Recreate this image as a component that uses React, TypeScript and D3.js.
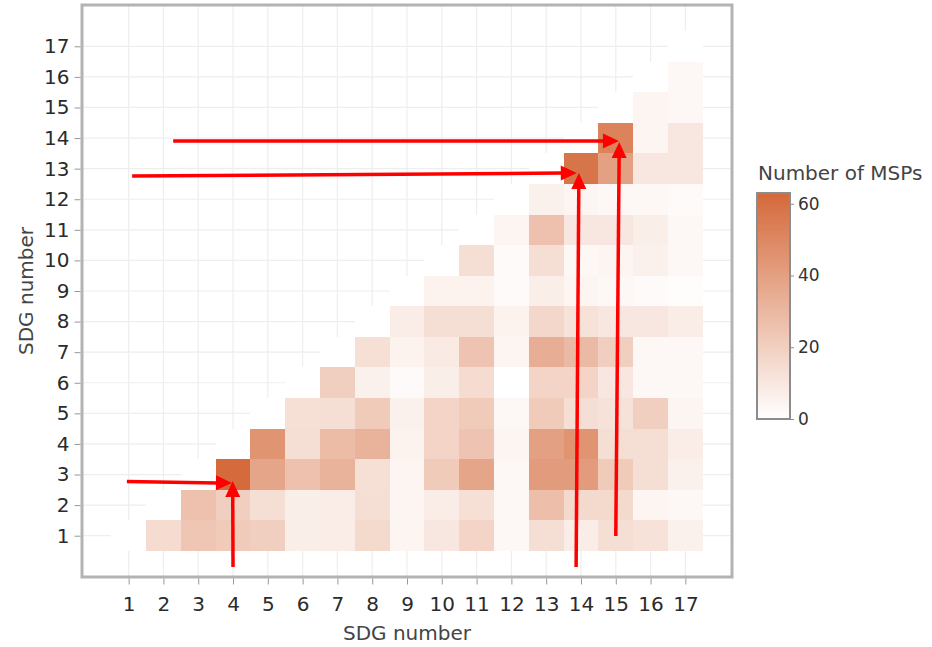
import * as React from 'react'
import * as d3 from 'd3'

// SDG numbers on both axes
const sdgs = [1, 2, 3, 4, 5, 6, 7, 8, 9, 10, 11, 12, 13, 14, 15, 16, 17]

// number of MSPs per pair: counts[x - 1][y - 1] for y = 1..x (diagonal is 0)
const counts: number[][] = [
    [0],
    [15, 0],
    [24, 26, 0],
    [22, 20, 62, 0],
    [20, 14, 38, 45, 0],
    [7, 7, 26, 14, 13, 0],
    [8, 8, 32, 28, 14, 20, 0],
    [16, 14, 13, 32, 22, 6, 13, 0],
    [4, 4, 4, 5, 6, 2, 5, 8, 0],
    [10, 8, 22, 18, 18, 7, 9, 14, 5, 0],
    [18, 13, 38, 25, 22, 15, 25, 14, 5, 14, 0],
    [3, 3, 3, 4, 3, 0, 4, 5, 2, 2, 4, 0],
    [14, 27, 42, 40, 22, 18, 34, 17, 7, 14, 26, 6, 0],
    [8, 16, 42, 45, 14, 18, 29, 12, 4, 3, 10, 4, 58, 0],
    [14, 16, 22, 14, 12, 10, 20, 10, 3, 4, 10, 3, 40, 52, 0],
    [12, 4, 14, 14, 20, 3, 3, 10, 2, 6, 7, 3, 10, 4, 4, 0],
    [6, 3, 6, 8, 4, 3, 3, 8, 1, 3, 3, 2, 10, 10, 3, 3, 0],
]

const colorTicks = [0, 20, 40, 60]
const colorMax = 63

// red annotation arrows, in SDG units: start -> tip
const arrows = [
    { x0: 0.95, y0: 2.77, x1: 3.97, y1: 2.72 },
    { x0: 4.0, y0: -0.02, x1: 3.99, y1: 2.79 },
    { x0: 1.1, y0: 12.76, x1: 13.88, y1: 12.86 },
    { x0: 13.86, y0: -0.02, x1: 13.94, y1: 12.86 },
    { x0: 2.28, y0: 13.9, x1: 15.09, y1: 13.9 },
    { x0: 15.0, y0: 0.99, x1: 15.1, y1: 13.87 },
]

interface Cell { x: number, y: number, value: number }

const FONT = "'DejaVu Sans', Verdana, sans-serif"

export default function App() {
    const node = React.useRef<SVGSVGElement | null>(null)

    React.useEffect(() => {
        document.body.style.margin = '0'
        if (!node.current)
            return
        const width = 932
        const height = 647
        const panel = { left: 82, top: 5, right: 732, bottom: 577 }

        const svg = d3.select(node.current)
        svg.selectAll('*').remove()
        svg.attr('width', width).attr('height', height)
            .style('font-family', FONT)
            .style('display', 'block')

        const x = d3.scaleLinear().domain([-0.34, 18.34]).range([panel.left, panel.right])
        const y = d3.scaleLinear().domain([-0.35, 18.35]).range([panel.bottom, panel.top])
        const color = d3.scaleLinear<string>().domain([0, colorMax]).range(['#ffffff', '#d4693a']).clamp(true)

        const cells: Cell[] = []
        counts.forEach((col, i) => col.forEach((v, j) => cells.push({ x: sdgs[i], y: sdgs[j], value: v })))

        svg.append('rect')
            .attr('x', panel.left).attr('y', panel.top)
            .attr('width', panel.right - panel.left).attr('height', panel.bottom - panel.top)
            .attr('fill', '#fff')

        // grid
        const grid = svg.append('g').attr('stroke', '#eeeeee').attr('stroke-width', 1.2)
        grid.selectAll('line.v').data(sdgs).enter().append('line')
            .attr('x1', d => x(d)).attr('x2', d => x(d))
            .attr('y1', panel.top).attr('y2', panel.bottom)
        grid.selectAll('line.h').data(sdgs).enter().append('line')
            .attr('y1', d => y(d)).attr('y2', d => y(d))
            .attr('x1', panel.left).attr('x2', panel.right)

        // heatmap cells
        svg.append('g').selectAll('rect').data(cells).enter().append('rect')
            .attr('x', d => x(d.x - 0.5))
            .attr('y', d => y(d.y + 0.5))
            .attr('width', d => x(d.x + 0.5) - x(d.x - 0.5))
            .attr('height', d => y(d.y - 0.5) - y(d.y + 0.5))
            .attr('fill', d => color(d.value))
            .attr('shape-rendering', 'crispEdges')

        // panel border
        svg.append('rect')
            .attr('x', panel.left).attr('y', panel.top)
            .attr('width', panel.right - panel.left).attr('height', panel.bottom - panel.top)
            .attr('fill', 'none').attr('stroke', '#b3b3b3').attr('stroke-width', 3)

        // x axis
        const xAxis = svg.append('g')
            .attr('transform', `translate(0,${panel.bottom + 1.5})`)
            .call(d3.axisBottom(x).tickValues(sdgs).tickSize(6).tickPadding(12).tickFormat(d3.format('d')))
        xAxis.select('.domain').remove()
        xAxis.selectAll('line').attr('stroke', '#999')
        xAxis.selectAll('text').attr('fill', '#2b2b2b').style('font-size', '20px').style('font-family', FONT)

        // y axis
        const yAxis = svg.append('g')
            .attr('transform', `translate(${panel.left - 1.5},0)`)
            .call(d3.axisLeft(y).tickValues(sdgs).tickSize(6).tickPadding(5).tickFormat(d3.format('d')))
        yAxis.select('.domain').remove()
        yAxis.selectAll('line').attr('stroke', '#999')
        yAxis.selectAll('text').attr('fill', '#2b2b2b').style('font-size', '20px').style('font-family', FONT)

        // axis titles
        svg.append('text')
            .attr('x', (panel.left + panel.right) / 2).attr('y', 640)
            .attr('text-anchor', 'middle').attr('fill', '#444')
            .style('font-size', '20px')
            .text('SDG number')
        svg.append('text')
            .attr('transform', `translate(33,${(panel.top + panel.bottom) / 2}) rotate(-90)`)
            .attr('text-anchor', 'middle').attr('fill', '#444')
            .style('font-size', '20px')
            .text('SDG number')

        // arrows
        const ag = svg.append('g').attr('fill', '#ff0000').attr('stroke', '#ff0000')
        for (const a of arrows) {
            const sx = x(a.x0), sy = y(a.y0), tx = x(a.x1), ty = y(a.y1)
            const len = Math.hypot(tx - sx, ty - sy)
            const ux = (tx - sx) / len, uy = (ty - sy) / len
            const head = 16, half = 7.5
            const bx = tx - ux * head, by = ty - uy * head
            ag.append('line')
                .attr('x1', sx).attr('y1', sy).attr('x2', bx + ux * 2).attr('y2', by + uy * 2)
                .attr('stroke-width', 3.5)
            ag.append('path')
                .attr('stroke', 'none')
                .attr('d', `M${tx},${ty}L${bx - uy * half},${by + ux * half}L${bx + uy * half},${by - ux * half}Z`)
        }

        // colour bar
        const bar = { left: 757, right: 790, top: 193, bottom: 419 }
        const cy = d3.scaleLinear().domain([0, colorMax]).range([bar.bottom, bar.top])
        const defs = svg.append('defs')
        const grad = defs.append('linearGradient').attr('id', 'msp-grad')
            .attr('x1', 0).attr('x2', 0).attr('y1', 1).attr('y2', 0)
        grad.append('stop').attr('offset', '0%').attr('stop-color', color(0))
        grad.append('stop').attr('offset', '100%').attr('stop-color', color(colorMax))
        svg.append('rect')
            .attr('x', bar.left).attr('y', bar.top)
            .attr('width', bar.right - bar.left).attr('height', bar.bottom - bar.top)
            .attr('fill', 'url(#msp-grad)')
            .attr('stroke', '#8c8c8c').attr('stroke-width', 2)
        const cAxis = svg.append('g')
            .attr('transform', `translate(${bar.right + 1},0)`)
            .call(d3.axisRight(cy).tickValues(colorTicks).tickSize(3).tickPadding(4))
        cAxis.select('.domain').remove()
        cAxis.selectAll('line').attr('stroke', '#8c8c8c')
        cAxis.selectAll('text').attr('fill', '#333').style('font-size', '17px').style('font-family', FONT)
        svg.append('text')
            .attr('x', 758).attr('y', 180)
            .attr('fill', '#444')
            .style('font-size', '20px')
            .text('Number of MSPs')
    }, [])

    return <svg ref={node} />
}
